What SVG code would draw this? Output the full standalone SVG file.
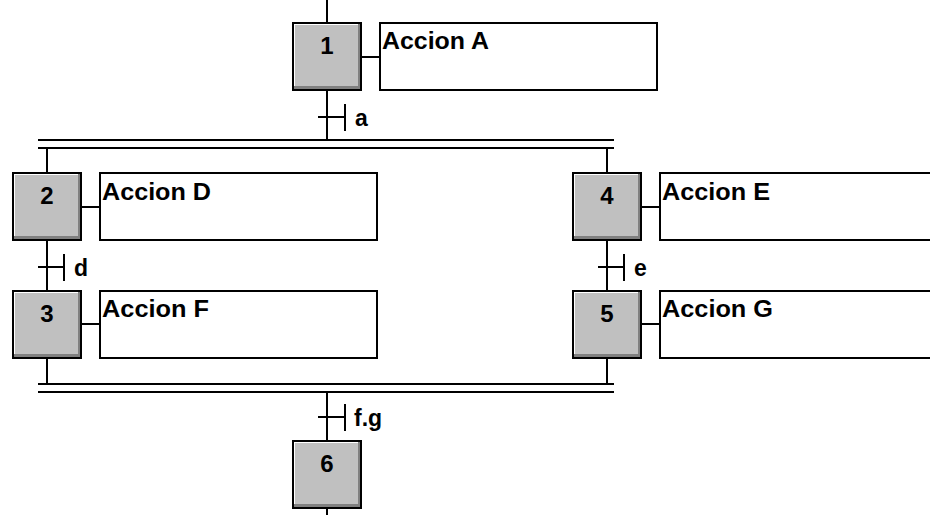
<svg xmlns="http://www.w3.org/2000/svg" xmlns:xlink="http://www.w3.org/1999/xlink" width="930" height="515" viewBox="0 0 930 515">
<style>
.ln{stroke:#000;stroke-width:2;fill:none}
.act{fill:#fff;stroke:#000;stroke-width:2}
.num{font-family:"Liberation Sans",Arial,sans-serif;font-weight:bold;font-size:24px;text-anchor:middle;fill:#000}
.txt{font-family:"Liberation Sans",Arial,sans-serif;font-weight:bold;font-size:23px;fill:#000}
</style>
<defs>
<g id="stepbox">
<rect x="0" y="0" width="70" height="69" fill="#000"/>
<rect x="2" y="2" width="66" height="65" fill="#808080"/>
<rect x="2" y="2" width="64" height="62" fill="#fff"/>
<rect x="3" y="3" width="63" height="61" fill="#c0c0c0"/>
</g>
</defs>
<rect width="930" height="515" fill="#fff"/>
<g id="connectors">
<path class="ln" d="M327 0V22M327 91V140M38 140H614M38 148H614M47 148V172M607 148V172M47 241V290M607 241V290M47 359V384M607 359V384M38 384H614M38 392H614M327 392V440M327 509V515"/>
<path class="ln" d="M362 57H379M82 207H99M82 324H99M642 207H659M642 324H659"/>
<g id="t-a"><path class="ln" d="M318 117H345M345 104V131"/><text class="txt" x="355" y="126">a</text></g>
<g id="t-d"><path class="ln" d="M38 267H64M64 254V281"/><text class="txt" x="74" y="276">d</text></g>
<g id="t-e"><path class="ln" d="M598 267H624M624 254V281"/><text class="txt" x="634" y="276">e</text></g>
<g id="t-fg"><path class="ln" d="M318 417H345M345 404V431"/><text class="txt" x="354" y="426">f.g</text></g>
</g>
<g id="step1"><use xlink:href="#stepbox" x="292" y="22"/><text class="num" x="327" y="54">1</text></g>
<g id="actionA"><rect class="act" x="380" y="23" width="277" height="67"/><text class="txt" x="382" y="49" textLength="107" lengthAdjust="spacingAndGlyphs">Accion A</text></g>
<g id="step2"><use xlink:href="#stepbox" x="12" y="172"/><text class="num" x="47" y="204">2</text></g>
<g id="actionD"><rect class="act" x="100" y="173" width="277" height="67"/><text class="txt" x="102" y="200" textLength="109" lengthAdjust="spacingAndGlyphs">Accion D</text></g>
<g id="step3"><use xlink:href="#stepbox" x="12" y="290"/><text class="num" x="47" y="322">3</text></g>
<g id="actionF"><rect class="act" x="100" y="291" width="277" height="67"/><text class="txt" x="102" y="317" textLength="107" lengthAdjust="spacingAndGlyphs">Accion F</text></g>
<g id="step4"><use xlink:href="#stepbox" x="572" y="172"/><text class="num" x="607" y="204">4</text></g>
<g id="actionE"><rect class="act" x="660" y="173" width="290" height="67"/><text class="txt" x="662" y="200" textLength="108" lengthAdjust="spacingAndGlyphs">Accion E</text></g>
<g id="step5"><use xlink:href="#stepbox" x="572" y="290"/><text class="num" x="607" y="322">5</text></g>
<g id="actionG"><rect class="act" x="660" y="291" width="290" height="67"/><text class="txt" x="662" y="317" textLength="111" lengthAdjust="spacingAndGlyphs">Accion G</text></g>
<g id="step6"><use xlink:href="#stepbox" x="292" y="440"/><text class="num" x="327" y="472">6</text></g>
</svg>
